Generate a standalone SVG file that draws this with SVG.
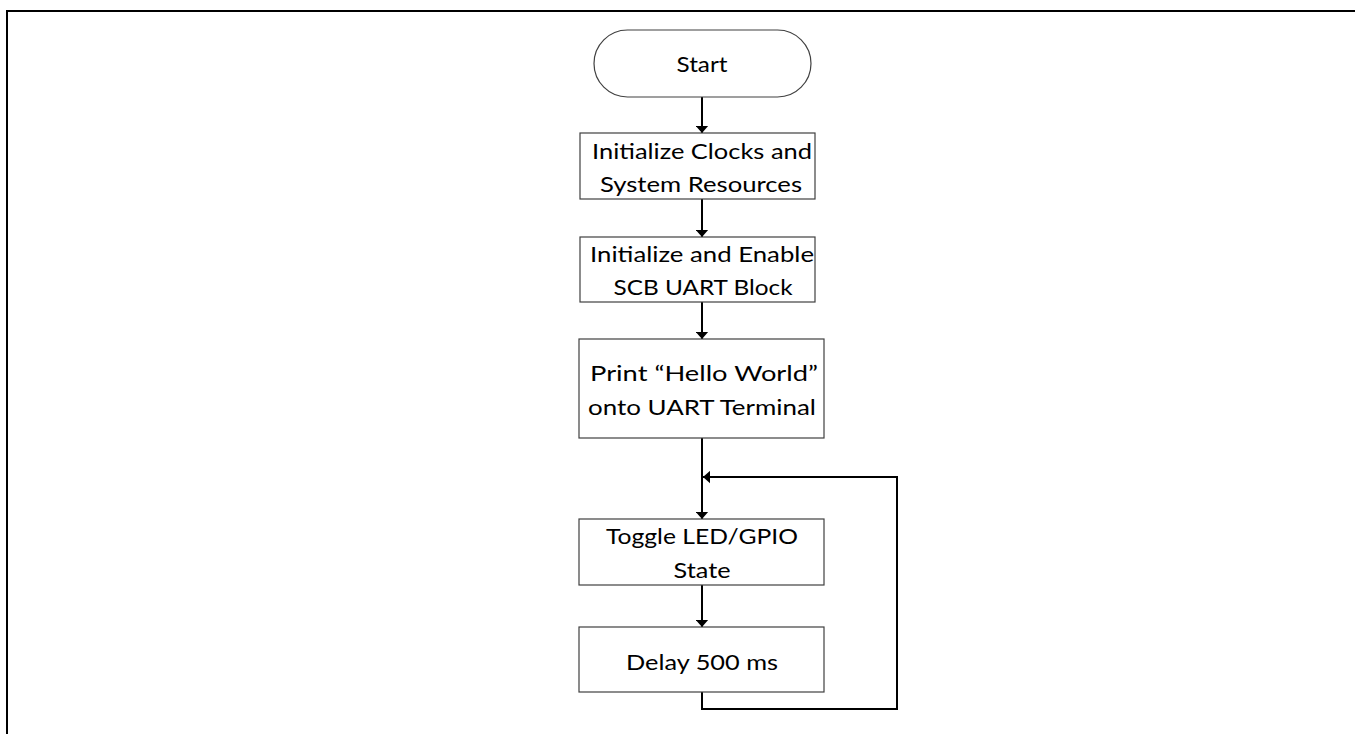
<svg xmlns="http://www.w3.org/2000/svg" width="1355" height="734" viewBox="0 0 1355 734">
  <style>
    .frame { stroke: #000; stroke-width: 2; fill: none; }
    .box { fill: #fff; stroke: #404040; stroke-width: 1.2; }
    .wire { stroke: #000; stroke-width: 2; fill: none; }
    .label { font-family: "Lato", "Liberation Sans", sans-serif; font-size: 22px; fill: #000; text-anchor: middle; }
  </style>
  <defs>
    <marker id="arrow" viewBox="0 0 8 14" refX="8" refY="7" markerWidth="7" markerHeight="13" markerUnits="userSpaceOnUse" orient="auto">
      <path d="M0,0 L8,7 L0,14 Z" fill="#000"/>
    </marker>
  </defs>

  <rect width="1355" height="734" fill="#fff"/>
  <!-- page frame: top and left edges -->
  <path class="frame" d="M7,734 V11 H1355"/>

  <!-- connectors -->
  <g id="connectors">
    <line class="wire" x1="702" y1="97" x2="702" y2="133" marker-end="url(#arrow)"/>
    <line class="wire" x1="702" y1="199" x2="702" y2="237" marker-end="url(#arrow)"/>
    <line class="wire" x1="702" y1="302" x2="702" y2="339" marker-end="url(#arrow)"/>
    <line class="wire" x1="702" y1="438" x2="702" y2="519" marker-end="url(#arrow)"/>
    <line class="wire" x1="702" y1="585" x2="702" y2="627" marker-end="url(#arrow)"/>
    <path class="wire" d="M702,692 V709 H897 V477 H703" marker-end="url(#arrow)"/>
  </g>

  <g id="start">
    <rect class="box" x="594" y="30" width="217" height="67" rx="33.5" ry="33.5"/>
    <text class="label" x="702" y="72" textLength="51" lengthAdjust="spacingAndGlyphs">Start</text>
  </g>

  <g id="init-clocks">
    <rect class="box" x="580" y="133" width="235" height="66"/>
    <text class="label" x="702" y="159" textLength="220" lengthAdjust="spacingAndGlyphs">Initialize Clocks and</text>
    <text class="label" x="701" y="192" textLength="202" lengthAdjust="spacingAndGlyphs">System Resources</text>
  </g>

  <g id="init-uart">
    <rect class="box" x="580" y="237" width="235" height="65"/>
    <text class="label" x="702" y="262" textLength="224" lengthAdjust="spacingAndGlyphs">Initialize and Enable</text>
    <text class="label" x="703" y="295" textLength="179" lengthAdjust="spacingAndGlyphs">SCB UART Block</text>
  </g>

  <g id="print-hello">
    <rect class="box" x="579" y="339" width="245" height="99"/>
    <text class="label" x="704" y="381" textLength="228" lengthAdjust="spacingAndGlyphs">Print  “Hello World”</text>
    <text class="label" x="702" y="415" textLength="228" lengthAdjust="spacingAndGlyphs">onto UART Terminal</text>
  </g>

  <g id="toggle-led">
    <rect class="box" x="579" y="519" width="245" height="66"/>
    <text class="label" x="702" y="544" textLength="192" lengthAdjust="spacingAndGlyphs">Toggle LED/GPIO</text>
    <text class="label" x="702" y="578" textLength="57" lengthAdjust="spacingAndGlyphs">State</text>
  </g>

  <g id="delay">
    <rect class="box" x="579" y="627" width="245" height="65"/>
    <text class="label" x="702" y="670" textLength="152" lengthAdjust="spacingAndGlyphs">Delay 500 ms</text>
  </g>
</svg>
